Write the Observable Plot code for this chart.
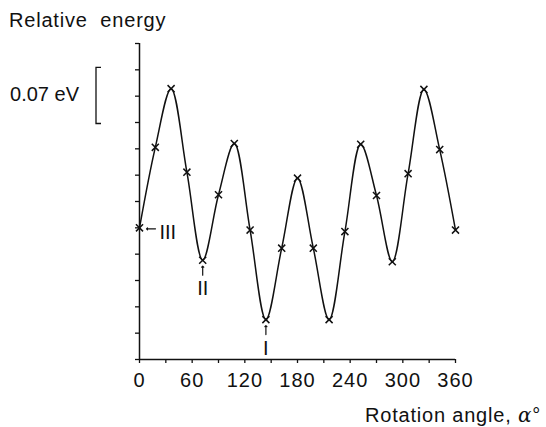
<!DOCTYPE html>
<html>
<head>
<meta charset="utf-8">
<script src="https://cdn.jsdelivr.net/npm/d3@7"></script>
<script src="https://cdn.jsdelivr.net/npm/@observablehq/plot@0.6"></script>
<style>
  html, body { margin: 0; padding: 0; background: #fff; }
  #wrap { position: relative; width: 546px; height: 427px; font-family: "Liberation Sans", Arial, sans-serif; color: #111; }
  #wrap svg { position: absolute; left: 0; top: 0; }
  .lbl { position: absolute; font-size: 20px; white-space: pre; line-height: 1; letter-spacing: 0.8px; }
  g[aria-label="x-axis tick label"] text { letter-spacing: 1px; }
</style>
</head>
<body>
<div id="wrap">
  <div class="lbl" id="ytitle" style="left:9px; top:10px;">Relative  energy</div>
  <div class="lbl" id="xtitle" style="left:365px; top:405px;">Rotation angle, <i style="font-family:'DejaVu Serif',serif;">α</i>°</div>
</div>
<script>
// Rotation angle (degrees) of the computed points
const angles = [0, 18, 36, 54, 72, 90, 108, 126, 144, 162, 180, 198, 216, 234, 252, 270, 288, 306, 324, 342, 360];
// Relative energy (eV)
const energy = [0.175, 0.282, 0.360, 0.249, 0.132, 0.219, 0.287, 0.172, 0.053, 0.148, 0.241, 0.148, 0.053, 0.170, 0.286, 0.218, 0.130, 0.247, 0.359, 0.279, 0.172];
// x tick values and labels
const xTicks = [0, 30, 60, 90, 120, 150, 180, 210, 240, 270, 300, 330, 360];
const xLabels = [0, 60, 120, 180, 240, 300, 360];
// y ticks (eV), unlabeled
const yTicks = [0, 0.035, 0.07, 0.105, 0.14, 0.175, 0.21, 0.245, 0.28, 0.315, 0.35, 0.385, 0.42];
// scale bar: 0.07 eV
const scaleBar = [0.313, 0.385];
const scaleLabel = "0.07 eV";
// conformer annotations
const confAngles = [0, 72, 144];
const confNames = ["III", "II", "I"];

const data = angles.map((a, i) => ({angle: a, e: energy[i]}));
const confs = confAngles.map((a, i) => ({angle: a, e: energy[angles.indexOf(a)], name: confNames[i]}));
const upConfs = confs.filter(d => d.name !== "III");
const leftConfs = confs.filter(d => d.name === "III");

const bracket = (index, scales) => {
  const x = scales.x(0) - 43;
  const yTop = scales.y(scaleBar[1]) - 2;
  const yBot = scales.y(scaleBar[0]);
  const g = d3.create("svg:g");
  g.append("path")
    .attr("d", `M${x + 5},${yTop}H${x}V${yBot}H${x + 5}`)
    .attr("fill", "none").attr("stroke", "#111").attr("stroke-width", 1.3);
  g.append("text")
    .attr("x", x - 17).attr("y", (yTop + yBot) / 2 + 6)
    .attr("text-anchor", "end")
    .attr("font-size", 20)
    .attr("fill", "#111")
    .text(scaleLabel);
  return g.node();
};

const chart = Plot.plot({
  width: 546,
  height: 427,
  marginLeft: 139,
  marginRight: 91,
  marginTop: 43,
  marginBottom: 68,
  style: {fontFamily: "'Liberation Sans', Arial, sans-serif", fontSize: "20px", color: "#111", background: "transparent"},
  x: {domain: [0, 360]},
  y: {domain: [0, 0.42]},
  marks: [
    Plot.axisX({ticks: xTicks, tickSize: 4, tickPadding: 9, tickFormat: d => xLabels.includes(d) ? String(d) : "", label: null, strokeWidth: 1.3}),
    Plot.axisY({ticks: yTicks, tickSize: 4, tickFormat: () => "", label: null, strokeWidth: 1.3}),
    Plot.ruleY([0], {stroke: "#111", strokeWidth: 1.5}),
    Plot.ruleX([0], {stroke: "#111", strokeWidth: 1.5}),
    Plot.line(data, {x: "angle", y: "e", curve: "catmull-rom", stroke: "#111", strokeWidth: 1.5}),
    Plot.dot(data, {x: "angle", y: "e", symbol: "times", r: 3.3, stroke: "#111", strokeWidth: 1.5}),
    Plot.vector(upConfs, {x: "angle", y: "e", rotate: 0, length: 9, anchor: "end", shape: "arrow", r: 2, dy: 6, stroke: "#111", strokeWidth: 1.2}),
    Plot.vector(leftConfs, {x: "angle", y: "e", rotate: -90, length: 9, anchor: "end", shape: "arrow", r: 2, dx: 7, dy: 1, stroke: "#111", strokeWidth: 1.2}),
    Plot.text(upConfs, {x: "angle", y: "e", text: "name", lineAnchor: "top", dy: 21, fontSize: 20, fill: "#111"}),
    Plot.text(leftConfs, {x: "angle", y: "e", text: "name", textAnchor: "start", dx: 20, dy: 5, fontSize: 20, fill: "#111"}),
    bracket
  ]
});
document.getElementById("wrap").prepend(chart);
</script>
</body>
</html>
